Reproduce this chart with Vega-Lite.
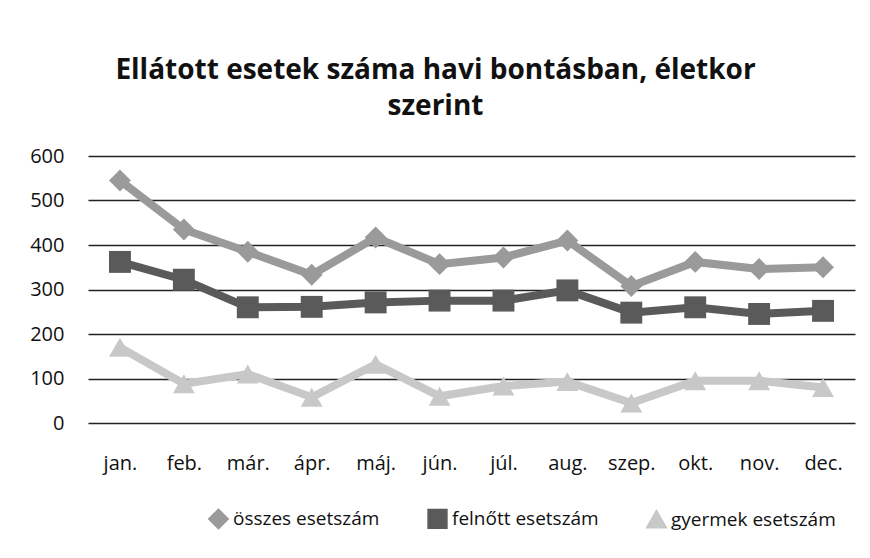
{
  "$schema": "https://vega.github.io/schema/vega-lite/v6.json",
  "width": 767,
  "height": 267,
  "autosize": "none",
  "padding": {"left": 88, "top": 156, "right": 15, "bottom": 135},
  "background": "white",
  "title": {
    "text": ["Ellátott esetek száma havi bontásban, életkor", "szerint"],
    "font": "Open Sans",
    "fontSize": 28,
    "fontWeight": "bold",
    "color": "#111",
    "anchor": "middle",
    "dx": -36,
    "offset": 25,
    "lineHeight": 36
  },
  "data": {
    "values": [
      {"honap": "jan.", "sorozat": "összes esetszám", "ertek": 545},
      {"honap": "feb.", "sorozat": "összes esetszám", "ertek": 435},
      {"honap": "már.", "sorozat": "összes esetszám", "ertek": 385},
      {"honap": "ápr.", "sorozat": "összes esetszám", "ertek": 333},
      {"honap": "máj.", "sorozat": "összes esetszám", "ertek": 417},
      {"honap": "jún.", "sorozat": "összes esetszám", "ertek": 357},
      {"honap": "júl.", "sorozat": "összes esetszám", "ertek": 372},
      {"honap": "aug.", "sorozat": "összes esetszám", "ertek": 410},
      {"honap": "szep.", "sorozat": "összes esetszám", "ertek": 308},
      {"honap": "okt.", "sorozat": "összes esetszám", "ertek": 362},
      {"honap": "nov.", "sorozat": "összes esetszám", "ertek": 346},
      {"honap": "dec.", "sorozat": "összes esetszám", "ertek": 350},
      {"honap": "jan.", "sorozat": "felnőtt esetszám", "ertek": 362},
      {"honap": "feb.", "sorozat": "felnőtt esetszám", "ertek": 322},
      {"honap": "már.", "sorozat": "felnőtt esetszám", "ertek": 260},
      {"honap": "ápr.", "sorozat": "felnőtt esetszám", "ertek": 261},
      {"honap": "máj.", "sorozat": "felnőtt esetszám", "ertek": 271},
      {"honap": "jún.", "sorozat": "felnőtt esetszám", "ertek": 275},
      {"honap": "júl.", "sorozat": "felnőtt esetszám", "ertek": 275},
      {"honap": "aug.", "sorozat": "felnőtt esetszám", "ertek": 298},
      {"honap": "szep.", "sorozat": "felnőtt esetszám", "ertek": 248},
      {"honap": "okt.", "sorozat": "felnőtt esetszám", "ertek": 260},
      {"honap": "nov.", "sorozat": "felnőtt esetszám", "ertek": 245},
      {"honap": "dec.", "sorozat": "felnőtt esetszám", "ertek": 252},
      {"honap": "jan.", "sorozat": "gyermek esetszám", "ertek": 170},
      {"honap": "feb.", "sorozat": "gyermek esetszám", "ertek": 88},
      {"honap": "már.", "sorozat": "gyermek esetszám", "ertek": 110},
      {"honap": "ápr.", "sorozat": "gyermek esetszám", "ertek": 58},
      {"honap": "máj.", "sorozat": "gyermek esetszám", "ertek": 132},
      {"honap": "jún.", "sorozat": "gyermek esetszám", "ertek": 60},
      {"honap": "júl.", "sorozat": "gyermek esetszám", "ertek": 83},
      {"honap": "aug.", "sorozat": "gyermek esetszám", "ertek": 93},
      {"honap": "szep.", "sorozat": "gyermek esetszám", "ertek": 45},
      {"honap": "okt.", "sorozat": "gyermek esetszám", "ertek": 95},
      {"honap": "nov.", "sorozat": "gyermek esetszám", "ertek": 95},
      {"honap": "dec.", "sorozat": "gyermek esetszám", "ertek": 80}
    ]
  },
  "encoding": {
    "x": {
      "field": "honap",
      "type": "ordinal",
      "sort": null,
      "scale": {"type": "point", "padding": 0.5},
      "axis": {
        "title": null,
        "labelAngle": 0,
        "labelFont": "Open Sans",
        "labelFontSize": 20,
        "labelColor": "#111",
        "labelPadding": 30,
        "domain": false,
        "ticks": false,
        "grid": false
      }
    },
    "y": {
      "field": "ertek",
      "type": "quantitative",
      "scale": {"domain": [0, 600]},
      "axis": {
        "title": null,
        "values": [0, 100, 200, 300, 400, 500, 600],
        "labelFont": "Open Sans",
        "labelFontSize": 20,
        "labelColor": "#111",
        "labelPadding": 24,
        "domain": false,
        "ticks": false,
        "grid": true,
        "gridColor": "#222",
        "gridWidth": 1.5,
        "gridOpacity": 1
      }
    },
    "color": {
      "field": "sorozat",
      "type": "nominal",
      "scale": {
        "domain": ["összes esetszám", "felnőtt esetszám", "gyermek esetszám"],
        "range": ["#9a9a9a", "#5a5a5a", "#c8c8c8"]
      },
      "legend": {
        "title": null,
        "orient": "none",
        "legendX": 120,
        "legendY": 352,
        "direction": "horizontal",
        "labelFont": "Open Sans",
        "labelFontSize": 19,
        "labelColor": "#111",
        "labelLimit": 300,
        "symbolSize": 300,
        "symbolStrokeWidth": 3,
        "columnPadding": 42
      }
    },
    "shape": {
      "field": "sorozat",
      "type": "nominal",
      "scale": {
        "domain": ["összes esetszám", "felnőtt esetszám", "gyermek esetszám"],
        "range": ["diamond", "square", "triangle-up"]
      },
      "legend": null
    }
  },
  "layer": [
    {
      "mark": {"type": "line", "strokeWidth": 8}
    },
    {
      "mark": {"type": "point", "filled": true, "size": 480, "opacity": 1}
    }
  ],
  "config": {"view": {"stroke": null}}
}
